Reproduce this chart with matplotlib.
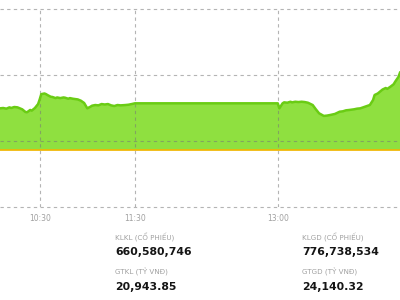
import numpy as np
import matplotlib.pyplot as plt

# intraday index, time as HH:MM
times = ["10:05", "10:07", "10:09", "10:11", "10:12", "10:14", "10:16", "10:18", "10:19",
         "10:21", "10:22", "10:24", "10:25", "10:27", "10:29", "10:30", "10:31", "10:33",
         "10:34", "10:35", "10:37", "10:38", "10:40", "10:41", "10:43", "10:45", "10:46",
         "10:48", "10:49", "10:51", "10:54", "10:56", "10:58", "11:00", "11:02", "11:03",
         "11:05", "11:07", "11:09", "11:11", "11:13", "11:15", "11:17", "11:19", "11:21",
         "11:24", "11:26", "11:28", "11:30",
         "13:00", "13:01", "13:03", "13:04", "13:06", "13:08", "13:09", "13:11", "13:13",
         "13:15", "13:17", "13:19", "13:22", "13:24", "13:26", "13:29", "13:31", "13:33",
         "13:36", "13:39", "13:41", "13:43", "13:45", "13:48", "13:50", "13:52", "13:55",
         "13:58", "14:00", "14:01", "14:03", "14:04", "14:06", "14:08", "14:09", "14:11",
         "14:13", "14:14", "14:16", "14:17"]
index = [1264.95, 1265.0, 1264.9, 1265.1, 1265.0, 1265.15, 1265.1, 1264.9, 1264.8,
         1264.4, 1264.35, 1264.7, 1264.6, 1265.0, 1265.6, 1266.3, 1267.1, 1267.2,
         1267.1, 1266.95, 1266.7, 1266.67, 1266.5, 1266.6, 1266.5, 1266.6, 1266.56,
         1266.4, 1266.5, 1266.4, 1266.3, 1266.1, 1265.76, 1264.95, 1265.2, 1265.35,
         1265.45, 1265.4, 1265.6, 1265.53, 1265.6, 1265.4, 1265.3, 1265.45, 1265.4,
         1265.45, 1265.5, 1265.6, 1265.71,
         1265.71, 1264.95, 1265.7, 1265.86, 1265.8, 1265.95, 1265.85, 1265.95, 1265.9,
         1265.95, 1265.9, 1265.8, 1265.45, 1264.8, 1264.2, 1263.8, 1263.85, 1263.94,
         1264.1, 1264.44, 1264.5, 1264.65, 1264.7, 1264.8, 1264.9, 1264.95, 1265.2,
         1265.45, 1266.2, 1266.97, 1267.2, 1267.4, 1267.8, 1268.03, 1267.9, 1268.23,
         1268.6, 1269.0, 1269.7, 1270.36]
ref_level = 1258.6
time_ticks = ["10:30", "11:30", "13:00"]
ylevels = [1250, 1260, 1270, 1280]

stats = [("KLKL (CỔ PHIẾU)", "660,580,746"), ("GTKL (TỶ VNĐ)", "20,943.85"),
         ("KLGD (CỔ PHIẾU)", "776,738,534"), ("GTGD (TỶ VNĐ)", "24,140.32")]


def to_min(s):
    h, m = s.split(":")
    return int(h) * 60 + int(m)


t = np.array([to_min(s) for s in times])
v = np.array(index)

fig = plt.figure(figsize=(4, 3), dpi=100)
ax = fig.add_axes([0, 0.31, 1, 0.6833])

ax.fill_between(t, v, ref_level, color="#8fe040", lw=0, zorder=1)
ax.plot(t, v, color="#6acc14", lw=1.8, zorder=4)
ax.axhline(ref_level, color="#f5b400", lw=1.2, zorder=3)

ax.set_xlim(to_min("10:05"), to_min("14:17"))
ax.set_ylim(1250, 1281.06)
# semi-transparent grid so it shows through the fill
for y in ylevels:
    ax.axhline(y, color="#777777", alpha=0.55, lw=0.8, ls=(0, (3, 3)), zorder=2,
               clip_on=False)
for s in time_ticks:
    ax.axvline(to_min(s), ymax=(1280 - 1250) / 31.06, color="#777777", alpha=0.55,
               lw=0.8, ls=(0, (3, 3)), zorder=2)
ax.set_xticks([to_min(s) for s in time_ticks])
ax.set_xticklabels(time_ticks, fontsize=5.5, color="#a0a0a0", family="DejaVu Sans")
ax.tick_params(length=0, pad=5)
ax.set_yticks([])
for sp in ax.spines.values():
    sp.set_visible(False)

# summary numbers
cols = [115 / 400, 302 / 400]
for i, (lab, val) in enumerate(stats):
    x = cols[i // 2]
    row = i % 2
    fig.text(x, 1 - (237 + row * 35) / 300, lab, fontsize=5.1, color="#a0a0a0",
             family="DejaVu Sans", va="center")
    fig.text(x, 1 - (252 + row * 35) / 300, val, fontsize=7.8, color="#151515",
             family="DejaVu Sans", fontweight="bold", va="center")

fig.savefig("out.png", dpi=100)
